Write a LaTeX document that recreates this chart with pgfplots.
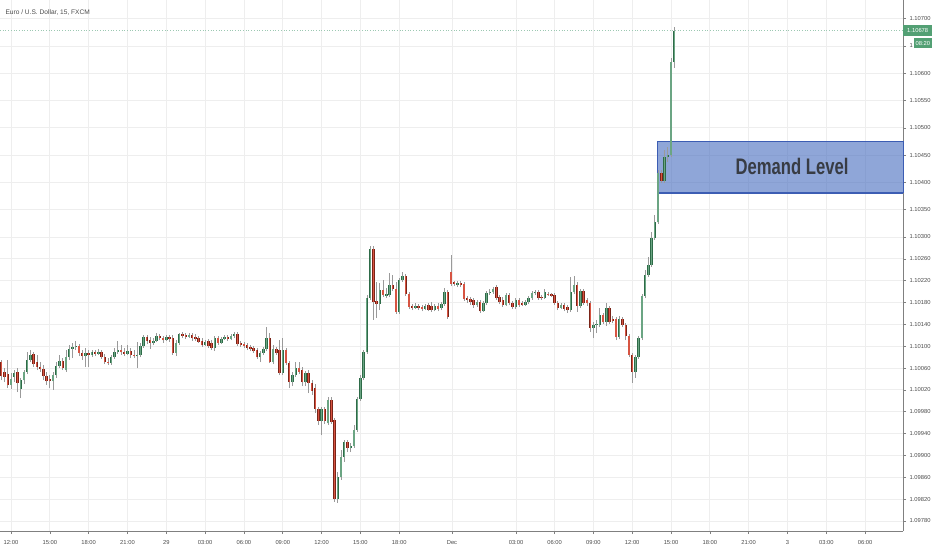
\documentclass[border=0pt]{standalone}
\usepackage{fontspec}
\setmainfont{Liberation Sans}
\newfontfamily\demandfont[FakeStretch=0.74]{Liberation Sans}
\usepackage{pgfplots}
\usepackage{pgfplotstable}
\pgfplotsset{compat=1.18}
\definecolor{upc}{HTML}{6BA583}
\definecolor{upd}{HTML}{2E6B48}
\definecolor{dnc}{HTML}{D75442}
\definecolor{dnd}{HTML}{7A2418}
\definecolor{wickc}{HTML}{9A9A9A}
\definecolor{gridc}{HTML}{EEEEEE}
\definecolor{axisgray}{HTML}{808080}
\definecolor{labelc}{HTML}{4A4A4A}
\definecolor{tagc}{HTML}{53A074}
\definecolor{pricel}{HTML}{9CC8B2}
\definecolor{demandblue}{HTML}{4A6FC0}
\definecolor{demandedge}{HTML}{3C5DB3}
\definecolor{demandtext}{HTML}{383C44}

\pgfplotstableread{
i O H L C up
-3 1.10071 1.10075 1.10038 1.10045 0
-2 1.10053 1.10060 1.10034 1.10044 0
-1 1.10049 1.10075 1.10023 1.10029 0
0 1.10029 1.10051 1.10022 1.10040 1
1 1.10044 1.10056 1.10034 1.10051 1
2 1.10053 1.10060 1.10016 1.10033 0
3 1.10022 1.10042 1.10005 1.10038 1
4 1.10038 1.10056 1.10031 1.10053 1
5 1.10053 1.10089 1.10049 1.10075 1
6 1.10075 1.10093 1.10071 1.10084 1
7 1.10086 1.10089 1.10062 1.10067 0
8 1.10071 1.10084 1.10056 1.10062 0
9 1.10062 1.10071 1.10053 1.10058 0
10 1.10058 1.10066 1.10038 1.10045 0
11 1.10045 1.10053 1.10029 1.10036 0
12 1.10040 1.10047 1.10023 1.10036 0
13 1.10036 1.10053 1.10020 1.10047 1
14 1.10047 1.10071 1.10042 1.10064 1
15 1.10064 1.10084 1.10060 1.10073 1
16 1.10073 1.10078 1.10056 1.10060 0
17 1.10056 1.10093 1.10053 1.10080 1
18 1.10080 1.10102 1.10075 1.10095 1
19 1.10095 1.10106 1.10078 1.10099 1
20 1.10099 1.10110 1.10093 1.10100 1
21 1.10100 1.10104 1.10082 1.10088 0
22 1.10088 1.10093 1.10075 1.10082 0
23 1.10082 1.10097 1.10062 1.10088 1
24 1.10088 1.10093 1.10062 1.10084 0
25 1.10084 1.10093 1.10080 1.10089 1
26 1.10089 1.10093 1.10082 1.10086 0
27 1.10086 1.10095 1.10084 1.10089 1
28 1.10089 1.10093 1.10077 1.10080 0
29 1.10080 1.10086 1.10067 1.10071 0
30 1.10071 1.10078 1.10066 1.10069 0
31 1.10069 1.10084 1.10066 1.10080 1
32 1.10080 1.10097 1.10077 1.10089 1
33 1.10089 1.10110 1.10086 1.10093 1
34 1.10093 1.10102 1.10084 1.10089 0
35 1.10089 1.10097 1.10082 1.10086 0
36 1.10086 1.10102 1.10084 1.10091 1
37 1.10091 1.10097 1.10078 1.10084 0
38 1.10084 1.10093 1.10078 1.10082 0
39 1.10082 1.10108 1.10060 1.10084 1
40 1.10084 1.10106 1.10080 1.10100 1
41 1.10100 1.10121 1.10097 1.10117 1
42 1.10117 1.10121 1.10104 1.10110 0
43 1.10111 1.10117 1.10095 1.10106 0
44 1.10106 1.10115 1.10102 1.10110 1
45 1.10110 1.10124 1.10108 1.10119 1
46 1.10119 1.10122 1.10111 1.10115 0
47 1.10115 1.10119 1.10106 1.10111 0
48 1.10111 1.10121 1.10110 1.10117 1
49 1.10117 1.10121 1.10108 1.10113 0
50 1.10115 1.10121 1.10084 1.10088 0
51 1.10088 1.10111 1.10082 1.10106 1
52 1.10106 1.10124 1.10102 1.10122 1
53 1.10122 1.10126 1.10115 1.10119 0
54 1.10121 1.10124 1.10113 1.10117 0
55 1.10117 1.10124 1.10115 1.10121 1
56 1.10121 1.10124 1.10110 1.10115 0
57 1.10117 1.10122 1.10110 1.10113 0
58 1.10115 1.10119 1.10106 1.10108 0
59 1.10110 1.10115 1.10099 1.10102 0
60 1.10102 1.10111 1.10100 1.10108 1
61 1.10110 1.10113 1.10097 1.10100 0
62 1.10106 1.10111 1.10093 1.10097 0
63 1.10097 1.10119 1.10091 1.10115 1
64 1.10115 1.10119 1.10102 1.10106 0
65 1.10106 1.10117 1.10104 1.10113 1
66 1.10113 1.10121 1.10111 1.10117 1
67 1.10117 1.10121 1.10110 1.10113 0
68 1.10113 1.10122 1.10111 1.10119 1
69 1.10119 1.10126 1.10115 1.10122 1
70 1.10122 1.10126 1.10100 1.10104 0
71 1.10106 1.10110 1.10099 1.10102 0
72 1.10104 1.10108 1.10097 1.10100 0
73 1.10102 1.10106 1.10093 1.10097 0
74 1.10099 1.10102 1.10091 1.10095 0
75 1.10097 1.10100 1.10088 1.10091 0
76 1.10093 1.10097 1.10077 1.10080 0
77 1.10080 1.10091 1.10071 1.10088 1
78 1.10088 1.10099 1.10084 1.10095 1
79 1.10095 1.10135 1.10091 1.10115 1
80 1.10115 1.10124 1.10069 1.10071 0
81 1.10071 1.10102 1.10067 1.10095 1
82 1.10095 1.10099 1.10084 1.10088 0
83 1.10093 1.10111 1.10047 1.10051 0
84 1.10051 1.10115 1.10047 1.10093 1
85 1.10093 1.10097 1.10066 1.10069 0
86 1.10069 1.10073 1.10023 1.10034 0
87 1.10034 1.10053 1.10027 1.10047 1
88 1.10047 1.10071 1.10044 1.10060 1
89 1.10060 1.10071 1.10049 1.10053 0
90 1.10056 1.10062 1.10027 1.10034 0
91 1.10034 1.10055 1.10027 1.10051 1
92 1.10051 1.10056 1.10014 1.10033 0
93 1.10033 1.10038 1.10011 1.10018 0
94 1.10023 1.10031 1.09978 1.09985 0
95 1.09985 1.09989 1.09956 1.09963 0
96 1.09963 1.09989 1.09937 1.09985 1
97 1.09985 1.09989 1.09958 1.09963 0
98 1.09959 1.10007 1.09956 1.10001 1
99 1.10001 1.10007 1.09958 1.09961 0
100 1.09965 1.09968 1.09815 1.09820 0
101 1.09820 1.09870 1.09813 1.09860 1
102 1.09860 1.09910 1.09855 1.09897 1
103 1.09897 1.09928 1.09888 1.09925 1
104 1.09925 1.09928 1.09906 1.09914 0
105 1.09914 1.09923 1.09906 1.09917 1
106 1.09917 1.09956 1.09914 1.09947 1
107 1.09947 1.10007 1.09943 1.10003 1
108 1.10003 1.10047 1.10000 1.10042 1
109 1.10042 1.10093 1.10038 1.10089 1
110 1.10089 1.10194 1.10086 1.10188 1
111 1.10188 1.10284 1.10185 1.10278 1
112 1.10278 1.10284 1.10148 1.10181 0
113 1.10183 1.10218 1.10152 1.10177 0
114 1.10177 1.10216 1.10166 1.10203 1
115 1.10203 1.10221 1.10190 1.10194 0
116 1.10192 1.10207 1.10188 1.10196 1
117 1.10194 1.10234 1.10190 1.10212 1
118 1.10212 1.10230 1.10201 1.10205 0
119 1.10205 1.10218 1.10159 1.10163 0
120 1.10163 1.10225 1.10159 1.10221 1
121 1.10221 1.10236 1.10218 1.10229 1
122 1.10229 1.10232 1.10192 1.10196 0
123 1.10196 1.10199 1.10168 1.10172 0
124 1.10174 1.10177 1.10166 1.10170 0
125 1.10170 1.10179 1.10168 1.10174 1
126 1.10174 1.10177 1.10166 1.10170 0
127 1.10172 1.10175 1.10164 1.10168 0
128 1.10168 1.10177 1.10166 1.10174 1
129 1.10175 1.10179 1.10164 1.10166 0
130 1.10174 1.10181 1.10163 1.10166 0
131 1.10166 1.10177 1.10164 1.10174 1
132 1.10174 1.10179 1.10164 1.10168 0
133 1.10170 1.10181 1.10166 1.10177 1
134 1.10177 1.10207 1.10174 1.10199 1
135 1.10199 1.10203 1.10150 1.10153 0
136 1.10236 1.10267 1.10210 1.10214 0
137 1.10217 1.10219 1.10210 1.10214 0
138 1.10212 1.10219 1.10208 1.10216 1
139 1.10216 1.10219 1.10208 1.10212 0
140 1.10214 1.10218 1.10183 1.10186 0
141 1.10188 1.10192 1.10179 1.10185 0
142 1.10186 1.10190 1.10175 1.10181 0
143 1.10185 1.10188 1.10170 1.10175 0
144 1.10175 1.10185 1.10172 1.10181 1
145 1.10181 1.10185 1.10161 1.10164 0
146 1.10164 1.10183 1.10163 1.10179 1
147 1.10179 1.10201 1.10175 1.10197 1
148 1.10197 1.10205 1.10194 1.10200 1
149 1.10199 1.10208 1.10196 1.10205 1
150 1.10208 1.10212 1.10185 1.10188 0
151 1.10190 1.10194 1.10177 1.10181 0
152 1.10185 1.10190 1.10172 1.10175 0
153 1.10175 1.10197 1.10174 1.10194 1
154 1.10194 1.10197 1.10175 1.10179 0
155 1.10179 1.10183 1.10168 1.10172 0
156 1.10172 1.10188 1.10168 1.10185 1
157 1.10185 1.10188 1.10172 1.10175 0
158 1.10179 1.10183 1.10174 1.10175 0
159 1.10175 1.10185 1.10174 1.10181 1
160 1.10181 1.10192 1.10177 1.10188 1
161 1.10188 1.10201 1.10185 1.10197 1
162 1.10197 1.10203 1.10194 1.10200 1
163 1.10199 1.10203 1.10185 1.10188 0
164 1.10190 1.10194 1.10185 1.10188 0
165 1.10188 1.10205 1.10186 1.10199 1
166 1.10196 1.10199 1.10192 1.10194 0
167 1.10195 1.10197 1.10190 1.10192 0
168 1.10194 1.10197 1.10175 1.10179 0
169 1.10179 1.10183 1.10166 1.10170 0
170 1.10170 1.10179 1.10168 1.10175 1
171 1.10175 1.10179 1.10164 1.10168 0
172 1.10172 1.10175 1.10161 1.10166 0
173 1.10166 1.10227 1.10163 1.10199 1
174 1.10199 1.10229 1.10196 1.10212 1
175 1.10212 1.10218 1.10163 1.10174 0
176 1.10174 1.10205 1.10170 1.10201 1
177 1.10201 1.10205 1.10175 1.10179 0
178 1.10185 1.10188 1.10174 1.10179 0
179 1.10179 1.10183 1.10126 1.10133 0
180 1.10133 1.10144 1.10115 1.10139 1
181 1.10139 1.10148 1.10124 1.10141 1
182 1.10139 1.10170 1.10135 1.10157 1
183 1.10157 1.10161 1.10141 1.10144 0
184 1.10144 1.10179 1.10137 1.10170 1
185 1.10170 1.10174 1.10141 1.10144 0
186 1.10150 1.10155 1.10142 1.10146 0
187 1.10150 1.10153 1.10111 1.10117 0
188 1.10117 1.10155 1.10113 1.10150 1
189 1.10150 1.10153 1.10135 1.10139 0
190 1.10139 1.10142 1.10111 1.10119 0
191 1.10119 1.10122 1.10080 1.10084 0
192 1.10084 1.10088 1.10033 1.10053 0
193 1.10053 1.10084 1.10042 1.10080 1
194 1.10080 1.10119 1.10077 1.10115 1
195 1.10115 1.10196 1.10111 1.10192 1
196 1.10192 1.10240 1.10188 1.10230 1
197 1.10230 1.10263 1.10227 1.10249 1
198 1.10249 1.10309 1.10245 1.10298 1
199 1.10298 1.10340 1.10295 1.10327 1
200 1.10327 1.10423 1.10324 1.10417 1
201 1.10417 1.10423 1.10399 1.10403 0
202 1.10403 1.10459 1.10399 1.10447 1
203 1.10447 1.10465 1.10437 1.10450 1
204 1.10450 1.10628 1.10447 1.10621 1
205 1.10621 1.10685 1.10610 1.10678 1
}\candles

\begin{document}
\begin{tikzpicture}
\path[use as bounding box] (0pt,-19pt) rectangle (932pt,531pt);
\begin{axis}[
  at={(0pt,0pt)}, anchor=south west,
  scale only axis, width=903pt, height=531pt,
  xmin=-3.4, xmax=275.7, ymin=1.097615, ymax=1.107341,
  clip=false,
  axis x line*=bottom, axis y line*=right,
  axis line style={draw=axisgray, line width=0.8pt, -},
  xtick={0,12,24,36,48,60,72,84,96,108,120,136.3,156.1,168,180,192,204,216,228,240,252,264},
  xticklabels={12:00,15:00,18:00,21:00,29,03:00,06:00,09:00,12:00,15:00,18:00,Dec,03:00,06:00,09:00,12:00,15:00,18:00,21:00,3,03:00,06:00},
  ytick={1.0978,1.0982,1.0986,1.099,1.0994,1.0998,1.1002,1.1006,1.101,1.1014,1.1018,1.1022,1.1026,1.103,1.1035,1.104,1.1045,1.105,1.1055,1.106,1.1065,1.107},
  yticklabels={1.09780,1.09820,1.09860,1.09900,1.09940,1.09980,1.10020,1.10060,1.10100,1.10140,1.10180,1.10220,1.10260,1.10300,1.10350,1.10400,1.10450,1.10500,1.10550,1.10600,1,1.10700},
  scaled y ticks=false,
  tick align=outside, major tick length=3pt,
  tick style={draw=axisgray, line width=0.6pt},
  grid=major, grid style={draw=gridc, line width=0.8pt},
  ticklabel style={font=\fontsize{5.8}{6.5}\selectfont, text=labelc},
  xticklabel style={yshift=-2.5pt},
]
% demand zone
\addplot[fill=demandblue, fill opacity=0.62, draw=demandedge, line width=0.7pt, forget plot]
  coordinates {(199.7,1.10381) (275.7,1.10381) (275.7,1.10476) (199.7,1.10476)} -- cycle;
\addplot[draw=demandedge, line width=1.5pt, forget plot]
  coordinates {(199.7,1.10381) (275.7,1.10381)};
% current price line
\addplot[draw=pricel, dotted, line width=0.7pt, forget plot]
  coordinates {(-3.4,1.10678) (275.7,1.10678)};
% wicks
\addplot[draw=none, mark=none, forget plot,
  error bars/.cd, y dir=plus, y explicit, error mark=none,
  error bar style={line width=0.75pt, draw=wickc, solid}]
  table[x=i, y=L, y error plus expr=\thisrow{H}-\thisrow{L}] {\candles};
% up bodies
\addplot[draw=none, mark=none, forget plot,
  restrict expr to domain={\thisrow{up}}{0.5:1.5},
  error bars/.cd, y dir=plus, y explicit, error mark=none,
  error bar style={line width=2.4pt, draw=upd, solid}]
  table[x=i, y=O, y error plus expr=\thisrow{C}-\thisrow{O}] {\candles};
\addplot[draw=none, mark=none, forget plot,
  restrict expr to domain={\thisrow{up}}{0.5:1.5},
  error bars/.cd, y dir=plus, y explicit, error mark=none,
  error bar style={line width=1.2pt, draw=upc, solid}]
  table[x=i, y=O, y error plus expr=\thisrow{C}-\thisrow{O}] {\candles};
% down bodies
\addplot[draw=none, mark=none, forget plot,
  restrict expr to domain={\thisrow{up}}{-0.5:0.5},
  error bars/.cd, y dir=plus, y explicit, error mark=none,
  error bar style={line width=2.4pt, draw=dnd, solid}]
  table[x=i, y=C, y error plus expr=\thisrow{O}-\thisrow{C}] {\candles};
\addplot[draw=none, mark=none, forget plot,
  restrict expr to domain={\thisrow{up}}{-0.5:0.5},
  error bars/.cd, y dir=plus, y explicit, error mark=none,
  error bar style={line width=1.2pt, draw=dnc, solid}]
  table[x=i, y=C, y error plus expr=\thisrow{O}-\thisrow{C}] {\candles};
% labels
\node[font=\demandfont\bfseries\fontsize{22.5}{24}\selectfont, text=demandtext] at (axis cs:241.4,1.10430) {Demand Level};
\node[anchor=west, font=\fontsize{6.6}{7.5}\selectfont, text=labelc, xshift=2pt] at (rel axis cs:0,0.977) {Euro / U.S. Dollar, 15, FXCM};
\node[anchor=west, fill=tagc, text=white, inner sep=0pt, minimum width=29pt, minimum height=11.5pt, font=\fontsize{5.8}{6.5}\selectfont] at (axis cs:275.7,1.10678) {1.10678};
\node[anchor=east, fill=tagc, text=white, inner sep=0pt, minimum width=18pt, minimum height=10pt, font=\fontsize{5.8}{6.5}\selectfont, xshift=29pt] at (axis cs:275.7,1.10655) {08:20};
\end{axis}
\end{tikzpicture}
\end{document}
